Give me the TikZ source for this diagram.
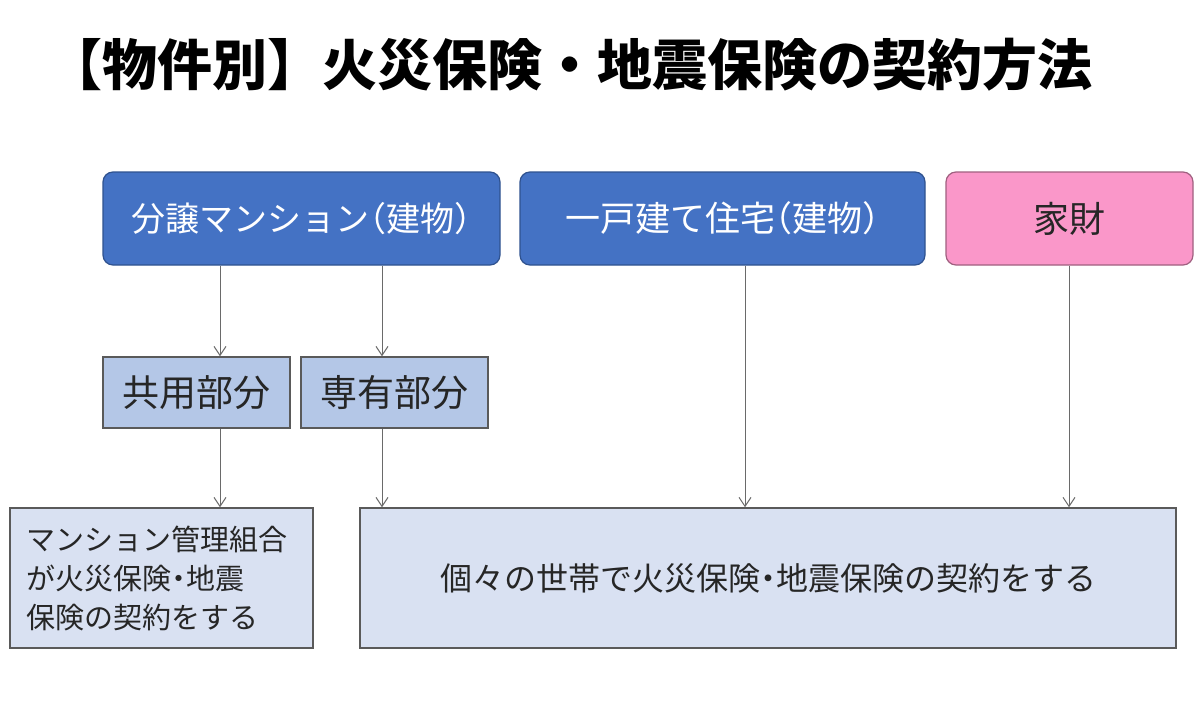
\documentclass[tikz,border=0pt]{standalone}
\usepackage{fontspec}
\setmainfont{Noto Sans CJK JP}
\newfontfamily\cjk{Noto Sans CJK JP}
\newfontfamily\cjkh{Noto Sans CJK JP}[RawFeature=+halt]
\usetikzlibrary{arrows.meta,calc}
\definecolor{topblue}{HTML}{4472C4}
\definecolor{topblueline}{HTML}{2F528F}
\definecolor{pinkfill}{HTML}{FA97C9}
\definecolor{pinkline}{HTML}{A06080}
\definecolor{midfill}{HTML}{B4C7E7}
\definecolor{lowfill}{HTML}{D9E1F2}
\definecolor{boxline}{HTML}{5A5A5A}
\definecolor{arrline}{HTML}{6A6A6A}
\tikzset{
  topbox/.style={draw=topblueline, line width=1.2pt, fill=topblue, rounded corners=10pt, text=white, inner sep=0pt},
  pinkbox/.style={draw=pinkline, line width=1.2pt, fill=pinkfill, rounded corners=10pt, text=black!85,
    font=\cjk\fontsize{36}{40}\selectfont, inner sep=0pt},
  midbox/.style={draw=boxline, line width=1.5pt, fill=midfill, text=black!85,
    font=\cjk\fontsize{37}{40}\selectfont, inner sep=0pt},
  lowbox/.style={draw=boxline, line width=1.5pt, fill=lowfill, text=black!85, inner sep=0pt},
  arr/.style={draw=arrline, line width=1pt, -{Straight Barb[length=9pt,width=12pt]}},
}
\begin{document}
\begin{tikzpicture}[x=1pt,y=-1pt]
\useasboundingbox[fill=white] (0,0) rectangle (1200,702);
\node[font=\cjk\bfseries\fontsize{55}{60}\selectfont, text=black, inner sep=0pt] (title) at (570,65) {【物件別】火災保険・地震保険の契約方法};

\node[topbox, minimum width=397pt, minimum height=93pt, font=\cjkh\fontsize{34}{38}\selectfont] (mansion) at (301.5,218.5) {分譲マンション（建物）};
\node[topbox, minimum width=405pt, minimum height=93pt, font=\cjkh\fontsize{35}{38}\selectfont] (house) at (722.5,218.5) {一戸建て住宅（建物）};
\node[pinkbox, minimum width=247pt, minimum height=93pt] (kazai) at (1069.5,218.5) {家財};

\node[midbox, minimum width=187pt, minimum height=71pt] (kyoyo) at (196.5,392.5) {共用部分};
\node[midbox, minimum width=187pt, minimum height=71pt] (senyu) at (394.5,392.5) {専有部分};

\node[lowbox, minimum width=303pt, minimum height=140pt, text width=269pt, align=left,
  font=\cjkh\fontsize{29}{39}\selectfont] (kanri) at (161.5,578) {マンション管理組合\\が火災保険・地震\\保険の契約をする};
\node[lowbox, minimum width=816pt, minimum height=140pt,
  font=\cjkh\fontsize{32}{36}\selectfont] (kojin) at (768,578) {個々の世帯で火災保険・地震保険の契約をする};

\coordinate (c1) at (220,0);
\coordinate (c2) at (382,0);
\coordinate (c3) at (745,0);
\coordinate (c4) at (1069,0);

\draw[arr] (mansion.south -| c1) -- (kyoyo.north -| c1);
\draw[arr] (mansion.south -| c2) -- (senyu.north -| c2);
\draw[arr] (kyoyo.south -| c1) -- (kanri.north -| c1);
\draw[arr] (senyu.south -| c2) -- (kojin.north -| c2);
\draw[arr] (house.south -| c3) -- (kojin.north -| c3);
\draw[arr] (kazai.south -| c4) -- (kojin.north -| c4);
\end{tikzpicture}
\end{document}
